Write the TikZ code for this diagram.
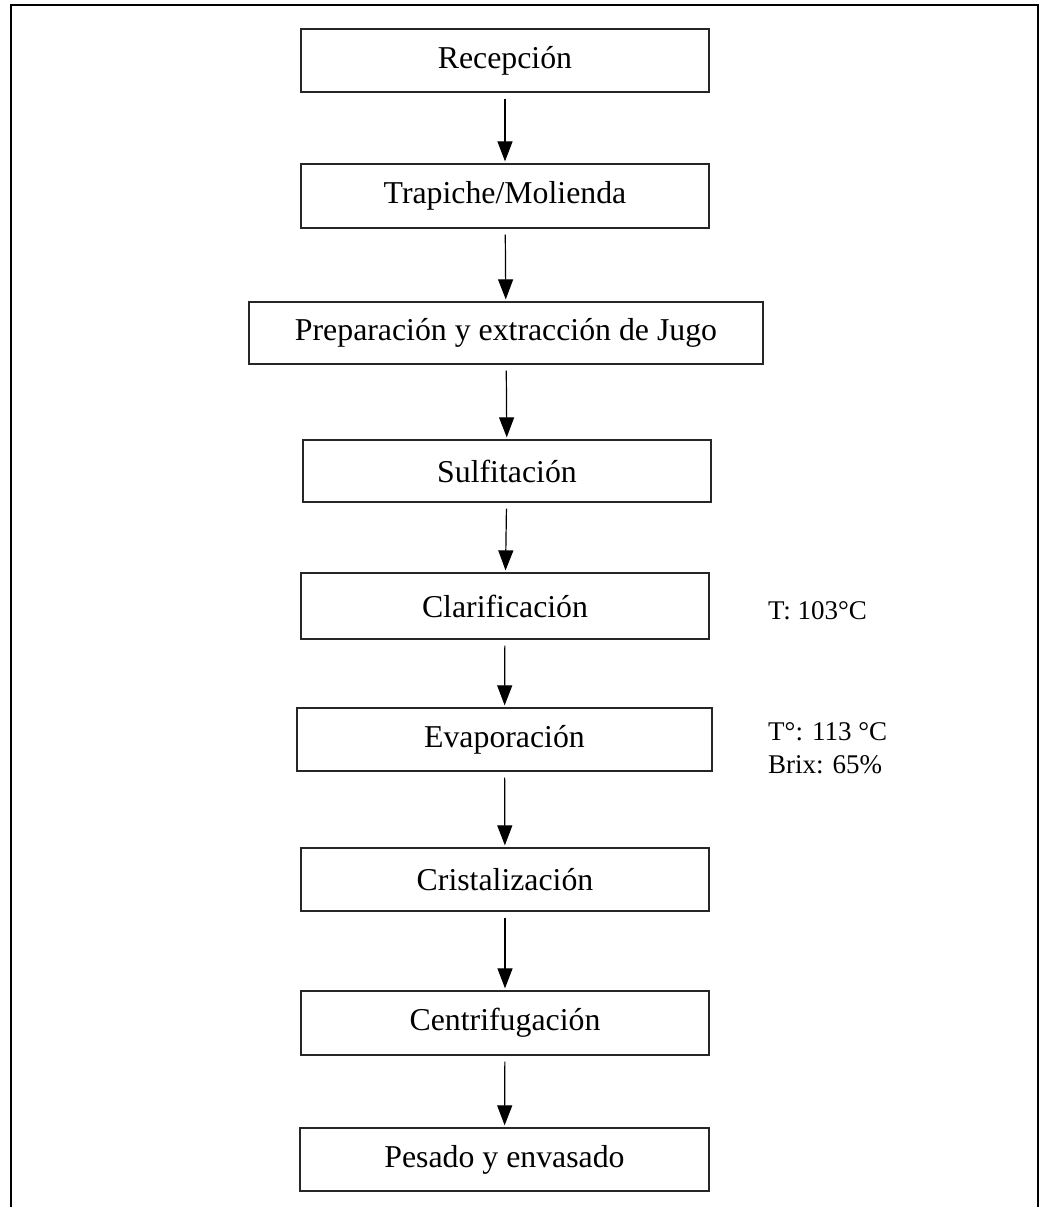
\documentclass[tikz,border=0pt]{standalone}
\usepackage{fontspec}
\setmainfont{Liberation Serif}
\usetikzlibrary{arrows.meta}

\begin{document}
\begin{tikzpicture}[x=1pt,y=-1pt,
	paso/.style={draw=black!85,line width=1.3pt,inner sep=0pt,minimum width=408pt,minimum height=63pt,font=\fontsize{31.8}{38}\selectfont},
	nota/.style={inner sep=0pt,font=\fontsize{27}{33}\selectfont},
	flecha/.style={line width=1.2pt,-{Triangle[width=15pt,length=20pt]},shorten <=6pt,shorten >=2pt}]
			
			\useasboundingbox (0,0) rectangle (1041,1207);
			\draw[line width=2.5pt] (11,1210) -- (11,5) -- (1038,5) -- (1038,1210);
			
			\node[paso] (R) at (505,60.5) {Recepción};
			\node[paso,minimum height=64pt] (T) at (505,196) {Trapiche/Molienda};
			\node[paso,minimum width=514pt,minimum height=62pt] (P) at (506,333) {Preparación y extracción de Jugo};
			\node[paso,minimum height=62pt] (S) at (507,471) {Sulfitación};
			\node[paso,minimum height=66pt] (C) at (505,606) {Clarificación};
			\node[paso,minimum width=415pt] (E) at (504.5,739.5) {Evaporación};
			\node[paso] (K) at (505,879.5) {Cristalización};
			\node[paso,minimum height=64pt] (F) at (505,1023) {Centrifugación};
			\node[paso,minimum width=409pt] (D) at (504.5,1159.5) {Pesado y envasado};
			
			\node[nota,anchor=base west] (C1) at (768,619) {T: 103°C};
			\node[nota,anchor=base west] (E1) at (768,740) {T°: 113 °C};
			\node[nota,anchor=base west] (E2) at (768,773) {Brix: 65\%};
			
			\draw[flecha] (R) -- (T);
			\draw[flecha] (T) -- (P);
			\draw[flecha] (P) -- (S);
			\draw[flecha] (S) -- (C);
			\draw[flecha] (C) -- (E);
			\draw[flecha] (E) -- (K);
			\draw[flecha] (K) -- (F);
			\draw[flecha] (F) -- (D);
			
		\end{tikzpicture}
\end{document}
